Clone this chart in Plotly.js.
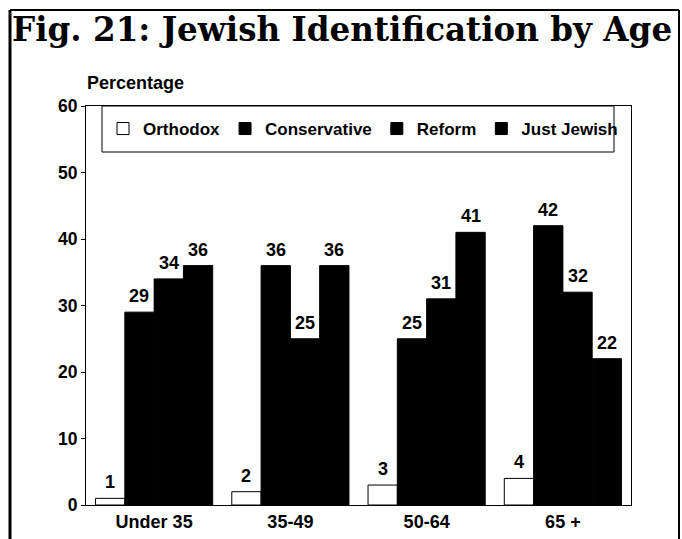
<!DOCTYPE html>
<html>
<head>
<meta charset="utf-8">
<script src="https://cdn.plot.ly/plotly-3.0.1.min.js"></script>
<style>
html,body{margin:0;padding:0;background:#fff;}
#chart{width:682px;height:539px;}
</style>
</head>
<body>
<div id="chart"></div>
<script>
const categories = ["Under 35", "35-49", "50-64", "65 +"];
const orthodox = [1, 2, 3, 4];
const conservative = [29, 36, 25, 42];
const reform = [34, 25, 31, 32];
const justJewish = [36, 36, 41, 22];
const seriesNames = ["Orthodox", "Conservative", "Reform", "Just Jewish"];
const yTicks = [0, 10, 20, 30, 40, 50, 60];

const sans = "'Liberation Sans', Arial, Helvetica, sans-serif";
const fillColors = ["#ffffff", "#000000", "#000000", "#000000"];
const allValues = [orthodox, conservative, reform, justJewish];
const bargap = 0.14;

const traces = allValues.map((vals, i) => ({
  type: "bar",
  name: seriesNames[i],
  x: categories,
  y: vals,
  marker: {color: fillColors[i], line: {color: "#000", width: 1}},
  hoverinfo: "skip"
}));

// value labels placed above each bar, derived from the data and the group layout
const nSeries = allValues.length;
const barW = (1 - bargap) / nSeries;
const labelAnnotations = [];
allValues.forEach((vals, i) => {
  vals.forEach((v, c) => {
    labelAnnotations.push({
      xref: "x", yref: "y",
      x: c + (i - (nSeries - 1) / 2) * barW, y: v,
      text: String(v), showarrow: false,
      xanchor: "center", yanchor: "bottom", yshift: 4,
      font: {family: sans, size: 18, color: "#000", weight: "bold"}
    });
  });
});

const L = 86, R = 631, T = 106, B = 505, W = 682, H = 539;
function px(x){ return (x - L) / (R - L); }
function py(y){ return (B - y) / (B - T); }

const layout = {
  width: W, height: H,
  margin: {l: L, r: W - R, t: T, b: H - B, pad: 0},
  paper_bgcolor: "#fff", plot_bgcolor: "#fff",
  barmode: "group", bargap: bargap, bargroupgap: 0,
  showlegend: true,
  font: {family: sans, size: 17, color: "#000"},
  title: {
    text: "Fig. 21: Jewish Identification by Age",
    font: {family: "'DejaVu Serif', 'Liberation Serif', serif", size: 32.6, color: "#000", weight: "bold"},
    x: 12 / W, xanchor: "left", xref: "container",
    y: 1 - 30 / H, yanchor: "middle", yref: "container"
  },
  xaxis: {
    type: "category", range: [-0.5, 3.5],
    showline: true, linecolor: "#000", linewidth: 1, mirror: true,
    ticks: "", showgrid: false, zeroline: false,
    tickfont: {family: sans, size: 18, color: "#000", weight: "bold"},
    fixedrange: true
  },
  yaxis: {
    range: [0, 60], tickvals: yTicks, ticktext: yTicks.map(String),
    showline: true, linecolor: "#000", linewidth: 1, mirror: true,
    ticks: "outside", ticklen: 4, tickcolor: "#000",
    showgrid: false, zeroline: false,
    tickfont: {family: sans, size: 17.5, color: "#000", weight: "bold"},
    fixedrange: true
  },
  legend: {
    orientation: "h", x: px(103), xanchor: "left", y: py(129), yanchor: "middle",
    bgcolor: "rgba(0,0,0,0)", borderwidth: 0,
    font: {family: sans, size: 17, color: "#000", weight: "bold"},
    traceorder: "normal", itemclick: false, itemdoubleclick: false
  },
  annotations: [{
    text: "Percentage", xref: "paper", yref: "paper",
    x: px(85), y: py(83), xanchor: "left", yanchor: "middle", showarrow: false,
    font: {family: sans, size: 18, color: "#000", weight: "bold"}
  }].concat(labelAnnotations),
  shapes: [
    {type: "rect", xref: "paper", yref: "paper", x0: px(102), x1: px(614), y0: py(106), y1: py(152),
     line: {color: "#000", width: 1}, fillcolor: "rgba(0,0,0,0)"},
    {type: "line", xref: "paper", yref: "paper", x0: px(10), x1: px(10), y0: py(10), y1: py(545),
     line: {color: "#000", width: 3}},
    {type: "line", xref: "paper", yref: "paper", x0: px(10), x1: px(679), y0: py(10), y1: py(10),
     line: {color: "#000", width: 2}},
    {type: "line", xref: "paper", yref: "paper", x0: px(679), x1: px(679), y0: py(10), y1: py(545),
     line: {color: "#000", width: 2}}
  ]
};

Plotly.newPlot("chart", traces, layout, {displayModeBar: false, staticPlot: true});
</script>
</body>
</html>
